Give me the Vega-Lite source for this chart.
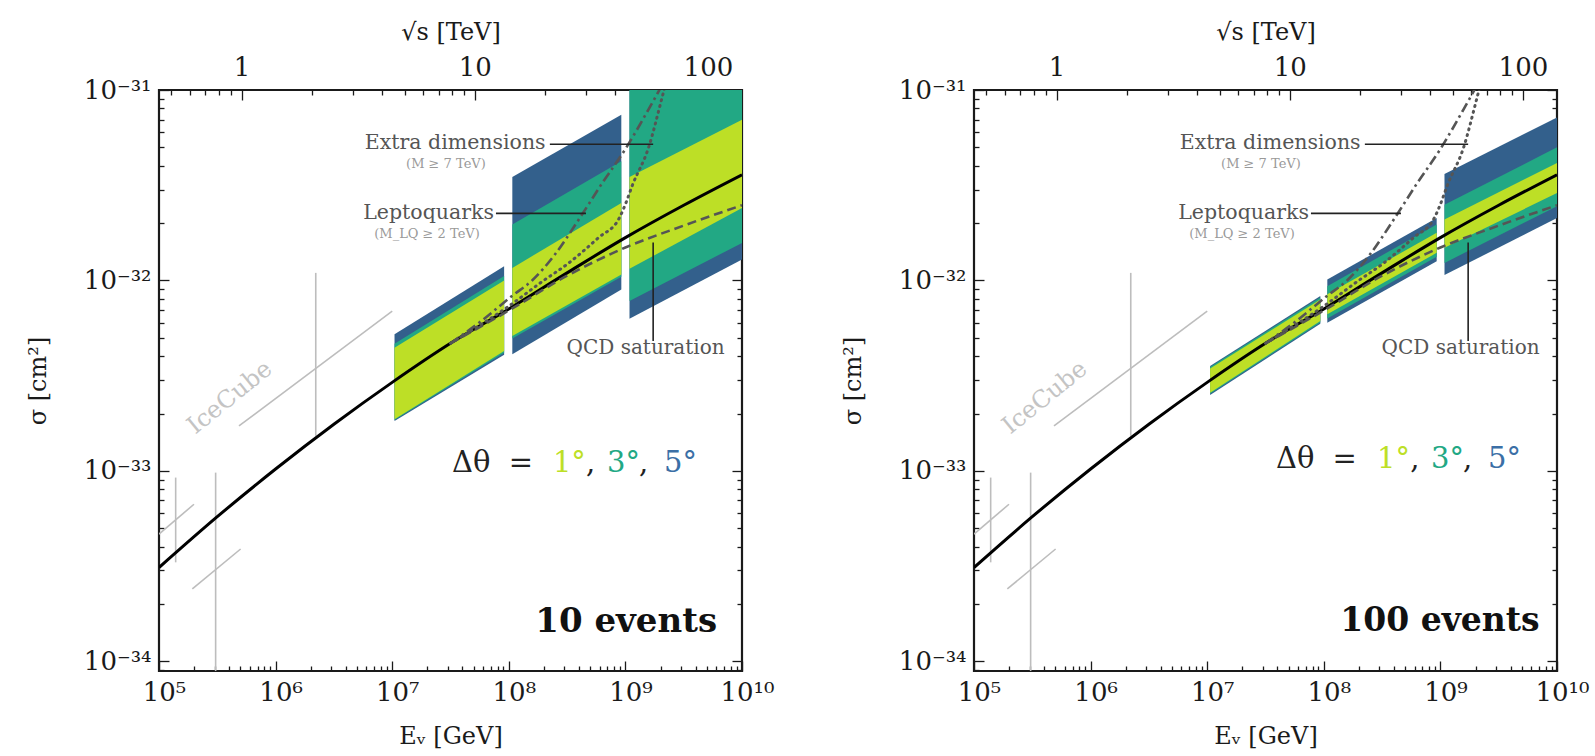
{
"$schema": "https://vega.github.io/schema/vega-lite/v6.json",
"background": "white",
"padding": {"left": 25, "top": 18, "right": 5, "bottom": 5},
"spacing": 64,
"config": {
  "view": {"stroke": "#1a1a1a", "strokeWidth": 2.2},
  "font": "DejaVu Serif",
  "mark": {"font": "DejaVu Serif"},
  "text": {"font": "DejaVu Serif"},
  "axis": {"labelFont": "DejaVu Serif", "titleFont": "DejaVu Serif", "labelColor": "#1a1a1a", "titleColor": "#1a1a1a", "titleFontWeight": "normal", "grid": false, "domain": false, "tickColor": "#1a1a1a", "tickWidth": 1.3, "labelOverlap": false, "labelFlush": false, "labelBound": false, "labelFontSize": 26, "titleFontSize": 24}
},
"datasets": {
  "bands": [
    {"p":10,"b":"A","l":5,"E":1.047e7,"lo":1.828e-33,"hi":5.212e-33},{"p":10,"b":"A","l":5,"E":9.12e7,"lo":4.074e-33,"hi":1.189e-32},
    {"p":10,"b":"A","l":3,"E":1.047e7,"lo":1.849e-33,"hi":4.656e-33},{"p":10,"b":"A","l":3,"E":9.12e7,"lo":4.169e-33,"hi":1.054e-32},
    {"p":10,"b":"A","l":1,"E":1.047e7,"lo":1.866e-33,"hi":4.436e-33},{"p":10,"b":"A","l":1,"E":9.12e7,"lo":4.256e-33,"hi":1.0e-32},
    {"p":10,"b":"B","l":5,"E":1.072e8,"lo":4.093e-33,"hi":3.491e-32},{"p":10,"b":"B","l":5,"E":9.23e8,"lo":8.974e-33,"hi":7.413e-32},
    {"p":10,"b":"B","l":3,"E":1.072e8,"lo":4.955e-33,"hi":1.968e-32},{"p":10,"b":"B","l":3,"E":9.23e8,"lo":1.047e-32,"hi":4.227e-32},
    {"p":10,"b":"B","l":1,"E":1.072e8,"lo":5.105e-33,"hi":1.164e-32},{"p":10,"b":"B","l":1,"E":9.23e8,"lo":1.074e-32,"hi":2.553e-32},
    {"p":10,"b":"C","l":5,"E":1.084e9,"lo":6.295e-33,"hi":5.012e-31},{"p":10,"b":"C","l":5,"E":1e10,"lo":1.288e-32,"hi":1e-30},
    {"p":10,"b":"C","l":3,"E":1.084e9,"lo":7.798e-33,"hi":1.995e-31},{"p":10,"b":"C","l":3,"E":1e10,"lo":1.574e-32,"hi":3.981e-31},
    {"p":10,"b":"C","l":1,"E":1.084e9,"lo":1.151e-32,"hi":3.491e-32},{"p":10,"b":"C","l":1,"E":1e10,"lo":2.404e-32,"hi":6.982e-32},
    {"p":100,"b":"A","l":5,"E":1.059e7,"lo":2.506e-33,"hi":3.556e-33},{"p":100,"b":"A","l":5,"E":9.333e7,"lo":5.916e-33,"hi":8.279e-33},
    {"p":100,"b":"A","l":3,"E":1.059e7,"lo":2.541e-33,"hi":3.508e-33},{"p":100,"b":"A","l":3,"E":9.333e7,"lo":6.012e-33,"hi":8.128e-33},
    {"p":100,"b":"A","l":1,"E":1.059e7,"lo":2.576e-33,"hi":3.451e-33},{"p":100,"b":"A","l":1,"E":9.333e7,"lo":6.124e-33,"hi":7.943e-33},
    {"p":100,"b":"B","l":5,"E":1.072e8,"lo":5.998e-33,"hi":1.012e-32},{"p":100,"b":"B","l":5,"E":9.29e8,"lo":1.262e-32,"hi":2.128e-32},
    {"p":100,"b":"B","l":3,"E":1.072e8,"lo":6.31e-33,"hi":9.333e-33},{"p":100,"b":"B","l":3,"E":9.29e8,"lo":1.330e-32,"hi":1.968e-32},
    {"p":100,"b":"B","l":1,"E":1.072e8,"lo":6.637e-33,"hi":8.453e-33},{"p":100,"b":"B","l":1,"E":9.29e8,"lo":1.396e-32,"hi":1.778e-32},
    {"p":100,"b":"C","l":5,"E":1.084e9,"lo":1.067e-32,"hi":3.622e-32},{"p":100,"b":"C","l":5,"E":1e10,"lo":2.128e-32,"hi":7.178e-32},
    {"p":100,"b":"C","l":3,"E":1.084e9,"lo":1.236e-32,"hi":2.5e-32},{"p":100,"b":"C","l":3,"E":1e10,"lo":2.455e-32,"hi":5.0e-32},
    {"p":100,"b":"C","l":1,"E":1.084e9,"lo":1.483e-32,"hi":2.089e-32},{"p":100,"b":"C","l":1,"E":1e10,"lo":2.877e-32,"hi":4.14e-32}
  ],
  "sm": [
    {"E":1e5,"s":3.11e-34},{"E":3.162e5,"s":5.75e-34},{"E":1e6,"s":1.023e-33},{"E":3.162e6,"s":1.758e-33},{"E":1e7,"s":2.917e-33},{"E":3.162e7,"s":4.677e-33},{"E":1e8,"s":7.079e-33},{"E":3.162e8,"s":1.096e-32},{"E":1e9,"s":1.679e-32},{"E":3.162e9,"s":2.483e-32},{"E":1e10,"s":3.589e-32}
  ],
  "qcd": [
    {"E":3.162e7,"s":4.677e-33},{"E":1e8,"s":6.95e-33},{"E":3.162e8,"s":1.059e-32},{"E":1e9,"s":1.489e-32},{"E":3.162e9,"s":1.941e-32},{"E":1e10,"s":2.483e-32}
  ],
  "lq": [
    {"E":3.162e7,"s":4.677e-33},{"E":5.754e7,"s":6.095e-33},{"E":1.072e8,"s":8.318e-33},{"E":1.585e8,"s":1.0e-32},{"E":2.512e8,"s":1.380e-32},{"E":3.981e8,"s":2.089e-32},{"E":6.310e8,"s":3.236e-32},{"E":1e9,"s":4.898e-32},{"E":1.585e9,"s":7.943e-32},{"E":1.995e9,"s":1.023e-31},{"E":2.512e9,"s":1.349e-31}
  ],
  "ed": [
    {"E":3.162e7,"s":4.677e-33},{"E":1e8,"s":7.328e-33},{"E":1.995e8,"s":1.0e-32},{"E":3.162e8,"s":1.216e-32},{"E":5.888e8,"s":1.679e-32},{"E":8.810e8,"s":2.113e-32},{"E":1e9,"s":2.512e-32},{"E":1.148e9,"s":3.162e-32},{"E":1.585e9,"s":5.012e-32},{"E":2.042e9,"s":8.913e-32},{"E":2.291e9,"s":1.175e-31},{"E":2.512e9,"s":1.479e-31}
  ],
  "ice": [
    {"E":1.39e5,"s":9.226e-34,"E2":1.39e5,"s2":3.311e-34},
    {"E":1e5,"s":4.656e-34,"E2":1.995e5,"s2":6.683e-34},
    {"E":3.06e5,"s":9.795e-34,"E2":3.06e5,"s2":5e-35},
    {"E":1.932e5,"s":2.399e-34,"E2":5.012e5,"s2":3.89e-34},
    {"E":2.21e6,"s":1.096e-32,"E2":2.21e6,"s2":1.528e-33},
    {"E":4.853e5,"s":1.722e-33,"E2":1e7,"s2":6.902e-33}
  ],
  "lead": [
    {"E":2.25e8,"s":5.19e-32,"E2":1.73e9,"s2":5.19e-32},
    {"E":7.76e7,"s":2.25e-32,"E2":4.59e8,"s2":2.25e-32},
    {"E":1.73e9,"s":1.58e-32,"E2":1.73e9,"s2":4.81e-33}
  ],
  "labr": [
    {"t":"Extra dimensions","E":2.07e8,"s":5.25e-32},
    {"t":"Leptoquarks","E":7.46e7,"s":2.25e-32}
  ],
  "labc": [{"t":"QCD saturation","E":1.49e9,"s":4.42e-33}],
  "labs": [
    {"t":"(M ≥ 7 TeV)","E":2.89e7,"s":4.07e-32},
    {"t":"(M_LQ ≥ 2 TeV)","E":1.99e7,"s":1.75e-32}
  ],
  "icet": [{"t":"IceCube","E":4.06e5,"s":2.42e-33}],
  "dth": [
    {"p":10,"t":"Δθ","c":"k","E":3.26e7,"s":1.102e-33},
    {"p":10,"t":"=","c":"k","E":1.0e8,"s":1.102e-33},
    {"p":10,"t":"1°","c":"1","E":2.39e8,"s":1.102e-33},
    {"p":10,"t":",","c":"k","E":4.6e8,"s":1.102e-33},
    {"p":10,"t":"3°","c":"3","E":6.95e8,"s":1.102e-33},
    {"p":10,"t":",","c":"k","E":1.31e9,"s":1.102e-33},
    {"p":10,"t":"5°","c":"5","E":2.14e9,"s":1.102e-33},
    {"p":100,"t":"Δθ","c":"k","E":3.89e7,"s":1.156e-33},
    {"p":100,"t":"=","c":"k","E":1.19e8,"s":1.156e-33},
    {"p":100,"t":"1°","c":"1","E":2.86e8,"s":1.156e-33},
    {"p":100,"t":",","c":"k","E":5.5e8,"s":1.156e-33},
    {"p":100,"t":"3°","c":"3","E":8.3e8,"s":1.156e-33},
    {"p":100,"t":",","c":"k","E":1.56e9,"s":1.156e-33},
    {"p":100,"t":"5°","c":"5","E":2.56e9,"s":1.156e-33}
  ],
  "ev": [
    {"p":10,"t":"10 events","E":6.11e9,"s":1.603e-34},
    {"p":100,"t":"100 events","E":7.1e9,"s":1.633e-34}
  ],
  "anchor": [{"E": 1e6, "s": 1e-32}]
},
"hconcat": [
{
 "width": 583, "height": 581,
 "layer": [
  {"layer": [
   {"data": {"name": "bands"}, "transform": [{"filter": "datum.p==10 && datum.l==5"}],
    "mark": {"type": "area", "color": "#33608c", "clip": true},
    "encoding": {
     "x": {"field": "E", "type": "quantitative", "scale": {"type": "log", "domain": [1e5, 1e10], "nice": false},
       "axis": {"orient": "bottom", "title": "Eᵥ [GeV]", "values": [1e5,1e6,1e7,1e8,1e9,1e10],
        "labelExpr": "datum.value==1e5?'10⁵':datum.value==1e6?'10⁶':datum.value==1e7?'10⁷':datum.value==1e8?'10⁸':datum.value==1e9?'10⁹':'10¹⁰'",
        "tickSize": -10, "labelPadding": 18, "titlePadding": 19, "labelOffset": 5}},
     "y": {"field": "lo", "type": "quantitative", "scale": {"type": "log", "domain": [8.9e-35, 1e-31], "nice": false},
       "axis": {"orient": "left", "title": "σ [cm²]", "values": [1e-34,1e-33,1e-32,1e-31],
        "labelExpr": "datum.value==1e-34?'10⁻³⁴':datum.value==1e-33?'10⁻³³':datum.value==1e-32?'10⁻³²':'10⁻³¹'",
        "tickSize": -10, "labelPadding": 18, "titlePadding": 33}},
     "y2": {"field": "hi"},
     "detail": {"field": "b"}
    }},
   {"data": {"name": "bands"}, "transform": [{"filter": "datum.p==10 && datum.l==3"}],
    "mark": {"type": "area", "color": "#22a884", "clip": true},
    "encoding": {"x": {"field": "E", "type": "quantitative"}, "y": {"field": "lo", "type": "quantitative"}, "y2": {"field": "hi"}, "detail": {"field": "b"}}},
   {"data": {"name": "bands"}, "transform": [{"filter": "datum.p==10 && datum.l==1"}],
    "mark": {"type": "area", "color": "#bddf26", "clip": true},
    "encoding": {"x": {"field": "E", "type": "quantitative"}, "y": {"field": "lo", "type": "quantitative"}, "y2": {"field": "hi"}, "detail": {"field": "b"}}},
   {"data": {"name": "ice"}, "mark": {"type": "rule", "color": "#bdbdbd", "strokeWidth": 1.6, "clip": true},
    "encoding": {"x": {"field": "E", "type": "quantitative"}, "x2": {"field": "E2"}, "y": {"field": "s", "type": "quantitative"}, "y2": {"field": "s2"}}},
   {"data": {"name": "icet"}, "mark": {"type": "text", "font": "DejaVu Serif", "color": "#c4c4c4", "fontSize": 24, "angle": 321, "align": "center", "baseline": "middle"},
    "encoding": {"x": {"field": "E", "type": "quantitative"}, "y": {"field": "s", "type": "quantitative"}, "text": {"field": "t"}}},
   {"data": {"name": "sm"}, "mark": {"type": "line", "color": "#000", "strokeWidth": 3, "clip": true, "interpolate": "monotone"},
    "encoding": {"x": {"field": "E", "type": "quantitative"}, "y": {"field": "s", "type": "quantitative"}}},
   {"data": {"name": "qcd"}, "mark": {"type": "line", "color": "#555", "strokeWidth": 2.6, "strokeDash": [9, 5], "clip": true, "interpolate": "monotone"},
    "encoding": {"x": {"field": "E", "type": "quantitative"}, "y": {"field": "s", "type": "quantitative"}}},
   {"data": {"name": "lq"}, "mark": {"type": "line", "color": "#555", "strokeWidth": 2.6, "strokeDash": [10, 4, 2.5, 4], "clip": true, "interpolate": "monotone"},
    "encoding": {"x": {"field": "E", "type": "quantitative"}, "y": {"field": "s", "type": "quantitative"}}},
   {"data": {"name": "ed"}, "mark": {"type": "line", "color": "#555", "strokeWidth": 3, "strokeDash": [1, 5], "strokeCap": "round", "clip": true, "interpolate": "monotone"},
    "encoding": {"x": {"field": "E", "type": "quantitative"}, "y": {"field": "s", "type": "quantitative"}}},
   {"data": {"name": "lead"}, "mark": {"type": "rule", "color": "#222", "strokeWidth": 1.6},
    "encoding": {"x": {"field": "E", "type": "quantitative"}, "x2": {"field": "E2"}, "y": {"field": "s", "type": "quantitative"}, "y2": {"field": "s2"}}},
   {"data": {"name": "labr"}, "mark": {"type": "text", "font": "DejaVu Serif", "color": "#555", "fontSize": 20.5, "align": "right", "baseline": "middle"},
    "encoding": {"x": {"field": "E", "type": "quantitative"}, "y": {"field": "s", "type": "quantitative"}, "text": {"field": "t"}}},
   {"data": {"name": "labc"}, "mark": {"type": "text", "font": "DejaVu Serif", "color": "#555", "fontSize": 20, "align": "center", "baseline": "middle"},
    "encoding": {"x": {"field": "E", "type": "quantitative"}, "y": {"field": "s", "type": "quantitative"}, "text": {"field": "t"}}},
   {"data": {"name": "labs"}, "mark": {"type": "text", "font": "DejaVu Serif", "color": "#999", "fontSize": 13, "align": "center", "baseline": "middle"},
    "encoding": {"x": {"field": "E", "type": "quantitative"}, "y": {"field": "s", "type": "quantitative"}, "text": {"field": "t"}}},
   {"data": {"name": "dth"}, "transform": [{"filter": "datum.p==10"}], "mark": {"type": "text", "font": "DejaVu Serif", "fontSize": 29, "align": "left", "baseline": "middle"},
    "encoding": {"x": {"field": "E", "type": "quantitative"}, "y": {"field": "s", "type": "quantitative"}, "text": {"field": "t"},
     "color": {"field": "c", "type": "nominal", "scale": {"domain": ["k", "1", "3", "5"], "range": ["#222222", "#bddf26", "#22a884", "#3b6fa6"]}, "legend": null}}},
   {"data": {"name": "ev"}, "transform": [{"filter": "datum.p==10"}], "mark": {"type": "text", "font": "DejaVu Serif", "color": "#111", "fontSize": 34, "fontWeight": "bold", "align": "right", "baseline": "middle"},
    "encoding": {"x": {"field": "E", "type": "quantitative"}, "y": {"field": "s", "type": "quantitative"}, "text": {"field": "t"}}}
  ]},
  {"data": {"name": "anchor"}, "mark": {"type": "point", "opacity": 0},
   "encoding": {
    "x": {"field": "E", "type": "quantitative",
      "axis": {"orient": "bottom", "title": null, "labels": false, "tickSize": -5, "values": [2e5,3e5,4e5,5e5,6e5,7e5,8e5,9e5,2e6,3e6,4e6,5e6,6e6,7e6,8e6,9e6,2e7,3e7,4e7,5e7,6e7,7e7,8e7,9e7,2e8,3e8,4e8,5e8,6e8,7e8,8e8,9e8,2e9,3e9,4e9,5e9,6e9,7e9,8e9,9e9]}},
    "y": {"field": "s", "type": "quantitative",
      "axis": {"orient": "left", "title": null, "labels": false, "tickSize": -5, "values": [9e-35,2e-34,3e-34,4e-34,5e-34,6e-34,7e-34,8e-34,9e-34,2e-33,3e-33,4e-33,5e-33,6e-33,7e-33,8e-33,9e-33,2e-32,3e-32,4e-32,5e-32,6e-32,7e-32,8e-32,9e-32]}}}},
  {"data": {"name": "anchor"}, "mark": {"type": "point", "opacity": 0},
   "encoding": {"x": {"field": "E", "type": "quantitative",
      "axis": {"orient": "top", "title": "√s [TeV]", "values": [510204, 51020400, 5102040000], "labelExpr": "datum.value==510204?'1':datum.value==51020400?'10':'100'", "tickSize": -10, "labelPadding": 20, "titlePadding": 10}},
    "y": {"field": "s", "type": "quantitative",
     "axis": {"orient": "right", "title": null, "labels": false, "tickSize": -10, "values": [1e-34,1e-33,1e-32,1e-31]}}}},
  {"data": {"name": "anchor"}, "mark": {"type": "point", "opacity": 0},
   "encoding": {"x": {"field": "E", "type": "quantitative",
      "axis": {"orient": "top", "title": null, "labels": false, "tickSize": -5, "values": [127551,183673,250000,326531,413265,2040816,4591837,8163265,12755102,18367347,25000000,32653061,41326531,204081600,459183700,816326500,1275510200,1836734700,2500000000,3265306100,4132653100]}},
    "y": {"field": "s", "type": "quantitative",
     "axis": {"orient": "right", "title": null, "labels": false, "tickSize": -5, "values": [9e-35,2e-34,3e-34,4e-34,5e-34,6e-34,7e-34,8e-34,9e-34,2e-33,3e-33,4e-33,5e-33,6e-33,7e-33,8e-33,9e-33,2e-32,3e-32,4e-32,5e-32,6e-32,7e-32,8e-32,9e-32]}}}}
 ],
 "resolve": {"axis": {"x": "independent", "y": "independent"}}
},
{
 "width": 583, "height": 581,
 "layer": [
  {"layer": [
   {"data": {"name": "bands"}, "transform": [{"filter": "datum.p==100 && datum.l==5"}],
    "mark": {"type": "area", "color": "#33608c", "clip": true},
    "encoding": {
     "x": {"field": "E", "type": "quantitative", "scale": {"type": "log", "domain": [1e5, 1e10], "nice": false},
       "axis": {"orient": "bottom", "title": "Eᵥ [GeV]", "values": [1e5,1e6,1e7,1e8,1e9,1e10],
        "labelExpr": "datum.value==1e5?'10⁵':datum.value==1e6?'10⁶':datum.value==1e7?'10⁷':datum.value==1e8?'10⁸':datum.value==1e9?'10⁹':'10¹⁰'",
        "tickSize": -10, "labelPadding": 18, "titlePadding": 19, "labelOffset": 5}},
     "y": {"field": "lo", "type": "quantitative", "scale": {"type": "log", "domain": [8.9e-35, 1e-31], "nice": false},
       "axis": {"orient": "left", "title": "σ [cm²]", "values": [1e-34,1e-33,1e-32,1e-31],
        "labelExpr": "datum.value==1e-34?'10⁻³⁴':datum.value==1e-33?'10⁻³³':datum.value==1e-32?'10⁻³²':'10⁻³¹'",
        "tickSize": -10, "labelPadding": 18, "titlePadding": 33}},
     "y2": {"field": "hi"},
     "detail": {"field": "b"}
    }},
   {"data": {"name": "bands"}, "transform": [{"filter": "datum.p==100 && datum.l==3"}],
    "mark": {"type": "area", "color": "#22a884", "clip": true},
    "encoding": {"x": {"field": "E", "type": "quantitative"}, "y": {"field": "lo", "type": "quantitative"}, "y2": {"field": "hi"}, "detail": {"field": "b"}}},
   {"data": {"name": "bands"}, "transform": [{"filter": "datum.p==100 && datum.l==1"}],
    "mark": {"type": "area", "color": "#bddf26", "clip": true},
    "encoding": {"x": {"field": "E", "type": "quantitative"}, "y": {"field": "lo", "type": "quantitative"}, "y2": {"field": "hi"}, "detail": {"field": "b"}}},
   {"data": {"name": "ice"}, "mark": {"type": "rule", "color": "#bdbdbd", "strokeWidth": 1.6, "clip": true},
    "encoding": {"x": {"field": "E", "type": "quantitative"}, "x2": {"field": "E2"}, "y": {"field": "s", "type": "quantitative"}, "y2": {"field": "s2"}}},
   {"data": {"name": "icet"}, "mark": {"type": "text", "font": "DejaVu Serif", "color": "#c4c4c4", "fontSize": 24, "angle": 321, "align": "center", "baseline": "middle"},
    "encoding": {"x": {"field": "E", "type": "quantitative"}, "y": {"field": "s", "type": "quantitative"}, "text": {"field": "t"}}},
   {"data": {"name": "sm"}, "mark": {"type": "line", "color": "#000", "strokeWidth": 3, "clip": true, "interpolate": "monotone"},
    "encoding": {"x": {"field": "E", "type": "quantitative"}, "y": {"field": "s", "type": "quantitative"}}},
   {"data": {"name": "qcd"}, "mark": {"type": "line", "color": "#555", "strokeWidth": 2.6, "strokeDash": [9, 5], "clip": true, "interpolate": "monotone"},
    "encoding": {"x": {"field": "E", "type": "quantitative"}, "y": {"field": "s", "type": "quantitative"}}},
   {"data": {"name": "lq"}, "mark": {"type": "line", "color": "#555", "strokeWidth": 2.6, "strokeDash": [10, 4, 2.5, 4], "clip": true, "interpolate": "monotone"},
    "encoding": {"x": {"field": "E", "type": "quantitative"}, "y": {"field": "s", "type": "quantitative"}}},
   {"data": {"name": "ed"}, "mark": {"type": "line", "color": "#555", "strokeWidth": 3, "strokeDash": [1, 5], "strokeCap": "round", "clip": true, "interpolate": "monotone"},
    "encoding": {"x": {"field": "E", "type": "quantitative"}, "y": {"field": "s", "type": "quantitative"}}},
   {"data": {"name": "lead"}, "mark": {"type": "rule", "color": "#222", "strokeWidth": 1.6},
    "encoding": {"x": {"field": "E", "type": "quantitative"}, "x2": {"field": "E2"}, "y": {"field": "s", "type": "quantitative"}, "y2": {"field": "s2"}}},
   {"data": {"name": "labr"}, "mark": {"type": "text", "font": "DejaVu Serif", "color": "#555", "fontSize": 20.5, "align": "right", "baseline": "middle"},
    "encoding": {"x": {"field": "E", "type": "quantitative"}, "y": {"field": "s", "type": "quantitative"}, "text": {"field": "t"}}},
   {"data": {"name": "labc"}, "mark": {"type": "text", "font": "DejaVu Serif", "color": "#555", "fontSize": 20, "align": "center", "baseline": "middle"},
    "encoding": {"x": {"field": "E", "type": "quantitative"}, "y": {"field": "s", "type": "quantitative"}, "text": {"field": "t"}}},
   {"data": {"name": "labs"}, "mark": {"type": "text", "font": "DejaVu Serif", "color": "#999", "fontSize": 13, "align": "center", "baseline": "middle"},
    "encoding": {"x": {"field": "E", "type": "quantitative"}, "y": {"field": "s", "type": "quantitative"}, "text": {"field": "t"}}},
   {"data": {"name": "dth"}, "transform": [{"filter": "datum.p==100"}], "mark": {"type": "text", "font": "DejaVu Serif", "fontSize": 29, "align": "left", "baseline": "middle"},
    "encoding": {"x": {"field": "E", "type": "quantitative"}, "y": {"field": "s", "type": "quantitative"}, "text": {"field": "t"},
     "color": {"field": "c", "type": "nominal", "scale": {"domain": ["k", "1", "3", "5"], "range": ["#222222", "#bddf26", "#22a884", "#3b6fa6"]}, "legend": null}}},
   {"data": {"name": "ev"}, "transform": [{"filter": "datum.p==100"}], "mark": {"type": "text", "font": "DejaVu Serif", "color": "#111", "fontSize": 33, "fontWeight": "bold", "align": "right", "baseline": "middle"},
    "encoding": {"x": {"field": "E", "type": "quantitative"}, "y": {"field": "s", "type": "quantitative"}, "text": {"field": "t"}}}
  ]},
  {"data": {"name": "anchor"}, "mark": {"type": "point", "opacity": 0},
   "encoding": {
    "x": {"field": "E", "type": "quantitative",
      "axis": {"orient": "bottom", "title": null, "labels": false, "tickSize": -5, "values": [2e5,3e5,4e5,5e5,6e5,7e5,8e5,9e5,2e6,3e6,4e6,5e6,6e6,7e6,8e6,9e6,2e7,3e7,4e7,5e7,6e7,7e7,8e7,9e7,2e8,3e8,4e8,5e8,6e8,7e8,8e8,9e8,2e9,3e9,4e9,5e9,6e9,7e9,8e9,9e9]}},
    "y": {"field": "s", "type": "quantitative",
      "axis": {"orient": "left", "title": null, "labels": false, "tickSize": -5, "values": [9e-35,2e-34,3e-34,4e-34,5e-34,6e-34,7e-34,8e-34,9e-34,2e-33,3e-33,4e-33,5e-33,6e-33,7e-33,8e-33,9e-33,2e-32,3e-32,4e-32,5e-32,6e-32,7e-32,8e-32,9e-32]}}}},
  {"data": {"name": "anchor"}, "mark": {"type": "point", "opacity": 0},
   "encoding": {"x": {"field": "E", "type": "quantitative",
      "axis": {"orient": "top", "title": "√s [TeV]", "values": [510204, 51020400, 5102040000], "labelExpr": "datum.value==510204?'1':datum.value==51020400?'10':'100'", "tickSize": -10, "labelPadding": 20, "titlePadding": 10}},
    "y": {"field": "s", "type": "quantitative",
     "axis": {"orient": "right", "title": null, "labels": false, "tickSize": -10, "values": [1e-34,1e-33,1e-32,1e-31]}}}},
  {"data": {"name": "anchor"}, "mark": {"type": "point", "opacity": 0},
   "encoding": {"x": {"field": "E", "type": "quantitative",
      "axis": {"orient": "top", "title": null, "labels": false, "tickSize": -5, "values": [127551,183673,250000,326531,413265,2040816,4591837,8163265,12755102,18367347,25000000,32653061,41326531,204081600,459183700,816326500,1275510200,1836734700,2500000000,3265306100,4132653100]}},
    "y": {"field": "s", "type": "quantitative",
     "axis": {"orient": "right", "title": null, "labels": false, "tickSize": -5, "values": [9e-35,2e-34,3e-34,4e-34,5e-34,6e-34,7e-34,8e-34,9e-34,2e-33,3e-33,4e-33,5e-33,6e-33,7e-33,8e-33,9e-33,2e-32,3e-32,4e-32,5e-32,6e-32,7e-32,8e-32,9e-32]}}}}
 ],
 "resolve": {"axis": {"x": "independent", "y": "independent"}}
}
]
}
